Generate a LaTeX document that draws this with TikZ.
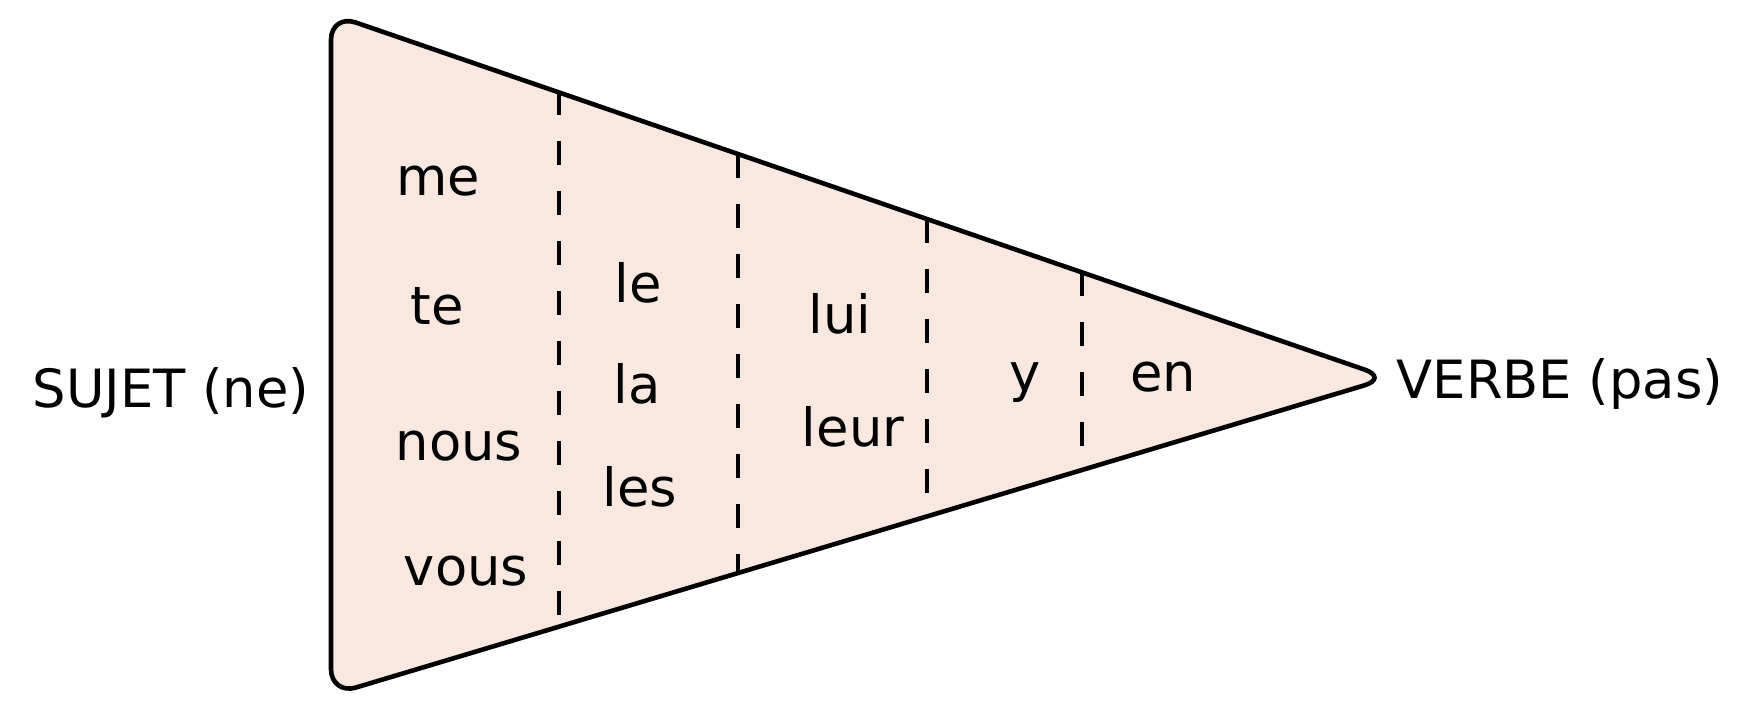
\documentclass[tikz,border=0pt]{standalone}
\usepackage{fontspec}
\setmainfont{DejaVu Sans}
\usetikzlibrary{positioning}
\definecolor{peach}{RGB}{248,232,223}
\tikzset{
  outline/.style = {line width=0.46mm, rounded corners=2.6mm},
  divider/.style = {line width=0.44mm, dash pattern=on 2.4mm off 2.6mm},
  word/.style = {anchor=base, inner sep=0pt, font=\fontsize{15}{18}\selectfont}
}
\begin{document}
\begin{tikzpicture}[x=0.1mm, y=-0.1mm]
\useasboundingbox (0,0) rectangle (1750,710);
\coordinate (tl) at (331,14);
\coordinate (tip) at (1389,378);
\coordinate (bl) at (331,695);
\filldraw[outline, fill=peach] (331,400) -- (tl) -- (tip) -- (bl) -- cycle;
\foreach \x/\a/\b in {559/91/615, 738/154/573, 927/219/493, 1082/272/446} {
  \draw[divider] (\x,\a) -- (\x,\b);
}
\foreach \w/\x/\y in {me/438/196, te/437/325, nous/459/461, vous/466/586,
                      le/638/303, la/637/404, les/640/507,
                      lui/840/334, leur/853/447, y/1025/392, en/1163/392} {
  \node[word] (\w) at (\x,\y) {\w};
}
\node[word] (sujet) at (171,408) {SUJET (ne)};
\node[word] (verbe) at (1560,399) {VERBE (pas)};
\end{tikzpicture}
\end{document}
